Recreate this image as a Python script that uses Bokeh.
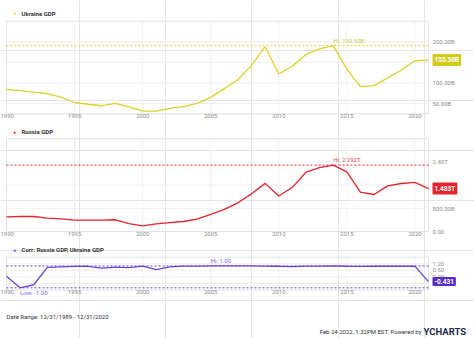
import pandas as pd
import numpy as np
from bokeh.plotting import figure
from bokeh.models import (Range1d, FixedTicker, DatetimeTickFormatter, Label,
                          LinearAxis, DatetimeAxis)
from bokeh.embed import file_html
from bokeh.resources import INLINE

# ---------------- data ----------------
years = [1989, 1990, 1991, 1992, 1993, 1994, 1995, 1996, 1997, 1998, 1999,
         2000, 2001, 2002, 2003, 2004, 2005, 2006, 2007, 2008, 2009, 2010,
         2011, 2012, 2013, 2014, 2015, 2016, 2017, 2018, 2019, 2020]

ukraine_gdp_b = [84.0, 81.5, 77.5, 73.9, 65.6, 52.5, 48.2, 44.6, 50.2, 41.9, 31.6,
                 31.3, 38.0, 42.4, 50.1, 64.9, 86.1, 107.8, 142.7, 188.1, 121.6, 141.2,
                 169.3, 182.6, 190.5, 133.5, 91.0, 93.4, 112.2, 130.9, 153.9, 155.5]

russia_gdp_t = [0.506, 0.517, 0.518, 0.460, 0.435, 0.395, 0.396, 0.392, 0.405, 0.271, 0.196,
                0.260, 0.307, 0.345, 0.430, 0.591, 0.764, 0.990, 1.300, 1.661, 1.223, 1.525,
                2.046, 2.208, 2.292, 2.059, 1.363, 1.277, 1.574, 1.657, 1.693, 1.483]

corr_values = [0.05, -1.00, -0.72, 0.87, 0.92, 0.96, 0.97, 0.80, 0.90, 0.85, 0.98,
               0.66, 0.92, 0.99, 0.99, 1.00, 1.00, 1.00, 1.00, 0.99, 0.97, 0.93,
               0.98, 0.99, 1.00, 0.97, 0.96, 0.98, 0.97, 0.97, 0.98, -0.431]

x_tick_years = [1990, 1995, 2000, 2005, 2010, 2015, 2020]

ukr_range = (25, 250)
ukr_ticks = [50, 100, 200]
ukr_tick_labels = ["50.00B", "100.00B", "200.00B"]
ukr_grid = [50, 100, 150, 200]

rus_range = (0, 3.2)
rus_ticks = [0.0, 0.8, 1.6, 2.4]
rus_tick_labels = ["0.00", "800.00B", "1.60T", "2.40T"]
rus_grid = [0.8, 1.6, 2.4]

corr_range = (-1.2, 1.8)
corr_ticks = [0.0, 0.6, 1.2]
corr_tick_labels = ["0.00", "0.60", "1.20"]
corr_grid = [-0.6, 0.0, 0.6, 1.2]

# ---------------- layout (pixels) ----------------
W, H = 474, 338
PLOT_L, PLOT_R = 6, 428
FONT = "Roboto"

x_ms = [pd.Timestamp(f"{y}-12-31").value // 10**6 for y in years]
tick_ms = [pd.Timestamp(f"{y}-01-01").value // 10**6 for y in x_tick_years]
d0, d1 = float(x_ms[0]), float(x_ms[-1])
ppx = (d1 - d0) / (PLOT_R - PLOT_L)
x_start, x_end = d0 - PLOT_L * ppx, d1 + (W - PLOT_R) * ppx

fmt = "%Y"
dt_fmt = DatetimeTickFormatter(microseconds=fmt, milliseconds=fmt, seconds=fmt, minsec=fmt,
                               minutes=fmt, hourmin=fmt, hours=fmt, days=fmt, months=fmt, years=fmt)


def band_range(lo, hi, top_px, bot_px):
    s = (hi - lo) / (bot_px - top_px)
    return Range1d(lo - (H - bot_px) * s, hi + top_px * s)


p = figure(width=W, height=H, x_range=Range1d(x_start, x_end), y_range=Range1d(H, 0),
           x_axis_location=None, y_axis_location=None, output_backend="svg",
           toolbar_location=None, min_border=0, outline_line_color=None,
           background_fill_color="white", border_fill_color="white")
p.extra_x_ranges = {"px": Range1d(0, W)}
p.extra_y_ranges = {
    "ukr": band_range(*ukr_range, 20.7, 113.3),
    "rus": band_range(*rus_range, 138.3, 231.0),
    "corr": band_range(*corr_range, 256.7, 289.5),
}


def text(x, y, s, size="6px", color="#333333", align="left", style="normal", **kw):
    p.add_layout(Label(x=x, y=y, text=s, x_range_name="px", text_baseline="middle",
                       text_align=align, text_font=FONT, text_font_size=size,
                       text_color=color, text_font_style=style, **kw))


def panel(rname, values, yr, ticks, tick_labels, grid_ticks, color, name, legend_y,
          hi_fmt, badge_fmt, badge_color, hi_color, low=False):
    lo, hi = yr
    # grid
    p.segment(x0=[d0] * len(grid_ticks), x1=[d1] * len(grid_ticks), y0=grid_ticks,
              y1=grid_ticks, line_color="#efefef", line_width=1, y_range_name=rname)
    vt = tick_ms[1:]
    p.segment(x0=vt, x1=vt, y0=[lo] * len(vt), y1=[hi] * len(vt),
              line_color="#efefef", line_width=1, y_range_name=rname)
    # frame outline
    p.quad(left=[d0], right=[d1], bottom=[lo], top=[hi], fill_color=None,
           line_color="#e2e2e2", line_width=1, y_range_name=rname)

    # axes
    xa = DatetimeAxis(y_range_name=rname, fixed_location=lo, ticker=FixedTicker(ticks=tick_ms),
                      formatter=dt_fmt)
    ya = LinearAxis(y_range_name=rname, fixed_location=d1, ticker=FixedTicker(ticks=ticks),
                    major_label_overrides={t: l for t, l in zip(ticks, tick_labels)})
    for ax in (xa, ya):
        ax.axis_line_color = None
        ax.major_tick_line_color = None
        ax.minor_tick_line_color = None
        ax.major_tick_out = 0
        ax.major_tick_in = 0
        ax.minor_tick_out = 0
        ax.major_label_text_font = FONT
        ax.major_label_text_font_size = "6px"
        ax.major_label_text_color = "#8c8c8c"
    xa.major_label_standoff = 0
    ya.major_label_standoff = 4
    p.add_layout(xa, "below")
    p.add_layout(ya, "right")

    # series
    p.line(x_ms, values, line_color=color, line_width=1.3, y_range_name=rname)

    arr = np.array(values)
    i_hi = int(np.argmax(arr))
    p.segment(x0=[d0], x1=[d1], y0=[arr[i_hi]], y1=[arr[i_hi]], line_color=color,
              line_dash="2 2", line_width=1, y_range_name=rname)
    p.add_layout(Label(x=x_ms[i_hi], y=float(arr[i_hi]), text="Hi: " + hi_fmt(arr[i_hi]),
                       y_range_name=rname, y_offset=2, text_baseline="bottom",
                       text_align="left", text_font=FONT, text_font_size="6px",
                       text_color=hi_color))
    if low:
        i_lo = int(np.argmin(arr))
        p.segment(x0=[d0], x1=[d1], y0=[arr[i_lo]], y1=[arr[i_lo]], line_color=color,
                  line_dash="2 2", line_width=1, y_range_name=rname)
        p.add_layout(Label(x=x_ms[i_lo], y=float(arr[i_lo]), text="Low: " + hi_fmt(arr[i_lo]),
                           y_range_name=rname, y_offset=-1, text_baseline="top",
                           text_align="left", text_font=FONT, text_font_size="6px",
                           text_color=hi_color))

    # last value badge
    p.add_layout(Label(x=x_ms[-1], y=float(arr[-1]), text=badge_fmt(arr[-1]),
                       y_range_name=rname, x_offset=4, text_baseline="middle",
                       text_align="left", text_font=FONT, text_font_size="6.5px",
                       text_font_style="bold", text_color="white",
                       background_fill_color=badge_color, padding=2, border_radius=1))

    # legend
    text(14, legend_y, "●", size="5px", color=color, align="center")
    text(21, legend_y, name, style="bold", color="#333333")


panel("ukr", ukraine_gdp_b, ukr_range, ukr_ticks, ukr_tick_labels, ukr_grid, "#d9d32a",
      "Ukraine GDP", 12.7, lambda v: f"{v:.2f}B", lambda v: f"{v:.2f}B", "#d2cb1c", "#cfc955")
panel("rus", russia_gdp_t, rus_range, rus_ticks, rus_tick_labels, rus_grid, "#e8222c",
      "Russia GDP", 131, lambda v: f"{v:.3f}T", lambda v: f"{v:.3f}T", "#e8222c", "#e24a4a")
panel("corr", corr_values, corr_range, corr_ticks, corr_tick_labels, corr_grid, "#6a44d4",
      "Corr: Russia GDP, Ukraine GDP", 249, lambda v: f"{v:.2f}", lambda v: f"{v:.3f}",
      "#5a2fc8", "#8466dd", low=True)

# footer
text(6, 316, f"Date Range: 12/31/{years[0]} - 12/31/{years[-1]}")
text(421, 331, "Feb 24 2022, 1:32PM EST. Powered by", align="right")
text(423, 331, "YCHARTS", size="9.5px", style="bold", color="#1e2b4f")

open("out.html", "w").write(file_html(p, INLINE))
